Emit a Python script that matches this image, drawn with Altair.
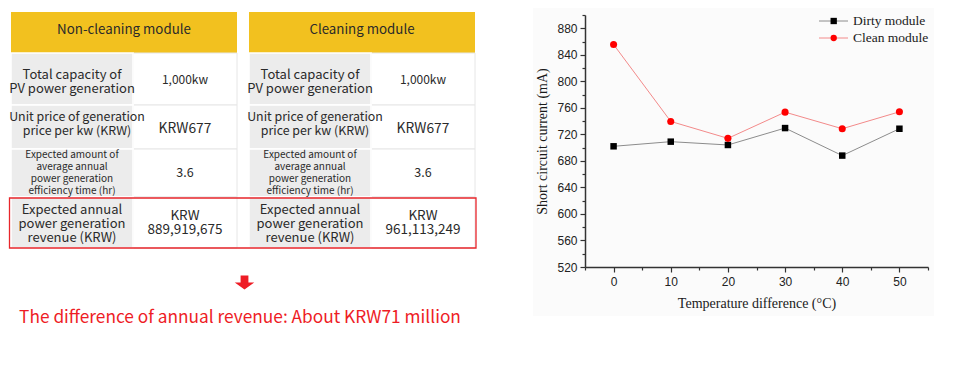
import altair as alt
import pandas as pd

# ---------------- content ----------------
headers = ["Non-cleaning module", "Cleaning module"]
row_labels = [
    "Total capacity of\nPV power generation",
    "Unit price of generation\nprice per kw (KRW)",
    "Expected amount of\naverage annual\npower generation\nefficiency time (hr)",
    "Expected annual\npower generation\nrevenue (KRW)",
]
noncleaning_values = ["1,000kw", "KRW677", "3.6", "KRW\n889,919,675"]
cleaning_values = ["1,000kw", "KRW677", "3.6", "KRW\n961,113,249"]
difference_note = "The difference of annual revenue: About KRW71 million"

temperature_diff = [0, 10, 20, 30, 40, 50]
dirty_module = [702, 709, 704, 729.5, 688, 728.5]
clean_module = [855.5, 739.5, 714, 753.5, 728.5, 754]
series_names = ["Dirty module", "Clean module"]

# ---------------- layout (page pixels) ----------------
PLOT_X, PLOT_Y, PLOT_W, PLOT_H = 585, 15, 343, 252
table_cols = [(11, 133, 237), (249, 371, 475)]
row_edges = [12, 53, 105, 149, 197, 248]
label_font = [13.0, 12.4, 10.0, 13.0]
label_lh = [14, 13.5, 12, 14]
label_y1 = [74.5, 117, 155, 210]        # first text line of each row
label_dx = [0, 5, 0, 0]
value_font = [12, 13.8, 12.5, 13.5]
value_lh = [14, 14, 14, 14.5]
value_y1 = [80, 129, 173, 215.5]
TFONT = "Noto Sans CJK KR"
TCOLOR = "#2a2a2a"

PX = alt.Scale(domain=[0, 957], range=[-PLOT_X, 957 - PLOT_X], nice=False, zero=False)
PY = alt.Scale(domain=[0, 365], range=[-PLOT_Y, 365 - PLOT_Y], nice=False, zero=False)


def px(f):
    return alt.X(f"{f}:Q", scale=PX, axis=None)


def py(f):
    return alt.Y(f"{f}:Q", scale=PY, axis=None)


layers = []

# chart backdrop (faint)
bg = pd.DataFrame([{"x0": 533, "x1": 934, "y0": 8, "y1": 316}])
layers.append(alt.Chart(bg).mark_rect(fill="#fbfbfb").encode(
    x=px("x0"), x2="x1:Q", y=py("y0"), y2="y1:Q"))

# table cells
header_rows, label_rows, value_rows = [], [], []
for t, (c0, c1, c2) in enumerate(table_cols):
    header_rows.append({"x0": c0, "x1": c2, "y0": row_edges[0], "y1": row_edges[1],
                        "xc": (c0 + c2) / 2, "yc": 30, "txt": headers[t]})
    vals = noncleaning_values if t == 0 else cleaning_values
    for r in range(4):
        label_rows.append({"x0": c0, "x1": c1, "y0": row_edges[r + 1], "y1": row_edges[r + 2],
                           "xc": (c0 + c1) / 2 + label_dx[r], "yc": label_y1[r],
                           "txt": row_labels[r], "r": r})
        value_rows.append({"x0": c1, "x1": c2, "y0": row_edges[r + 1], "y1": row_edges[r + 2],
                           "xc": (c1 + c2) / 2, "yc": value_y1[r], "txt": vals[r], "r": r})
hdf = pd.DataFrame(header_rows)
ldf = pd.DataFrame(label_rows)
vdf = pd.DataFrame(value_rows)

layers.append(alt.Chart(hdf).mark_rect(fill="#f2c11f").encode(
    x=px("x0"), x2="x1:Q", y=py("y0"), y2="y1:Q"))
layers.append(alt.Chart(vdf).mark_rect(fill="white", stroke="#e6e6e6", strokeWidth=1).encode(
    x=px("x0"), x2="x1:Q", y=py("y0"), y2="y1:Q"))
layers.append(alt.Chart(ldf).mark_rect(fill="#ececec", stroke="white", strokeWidth=1.5).encode(
    x=px("x0"), x2="x1:Q", y=py("y0"), y2="y1:Q"))
layers.append(alt.Chart(hdf).mark_text(font=TFONT, fontSize=13.3, color="#2a2a2a",
                                       baseline="middle", align="center").encode(
    x=px("xc"), y=py("yc"), text="txt:N"))
for r in range(4):
    layers.append(alt.Chart(ldf[ldf.r == r]).mark_text(
        font=TFONT, fontSize=label_font[r], lineHeight=label_lh[r], lineBreak="\n",
        color=TCOLOR, baseline="middle", align="center").encode(
        x=px("xc"), y=py("yc"), text="txt:N"))
    layers.append(alt.Chart(vdf[vdf.r == r]).mark_text(
        font=TFONT, fontSize=value_font[r], lineHeight=value_lh[r], lineBreak="\n",
        color=TCOLOR, baseline="middle", align="center").encode(
        x=px("xc"), y=py("yc"), text="txt:N"))

# red highlight box
box = pd.DataFrame([{"x0": 9.5, "x1": 476, "y0": 198, "y1": 248}])
layers.append(alt.Chart(box).mark_rect(fill=None, stroke="#e8262b", strokeWidth=1.3).encode(
    x=px("x0"), x2="x1:Q", y=py("y0"), y2="y1:Q"))

# arrow + note
arrow = pd.DataFrame([{"x": 244.5, "y": 282.5}])
layers.append(alt.Chart(arrow).mark_point(
    shape="M-0.4,-0.73H0.4V0H1L0,0.73L-1,0H-0.4Z", size=380, filled=True,
    fill="#ee1c25", stroke=None, opacity=1).encode(x=px("x"), y=py("y")))
note = pd.DataFrame([{"x": 240, "y": 318, "txt": difference_note}])
layers.append(alt.Chart(note).mark_text(font=TFONT, fontSize=17.3, color="#ee1c25",
                                        baseline="middle", align="center").encode(
    x=px("x"), y=py("y"), text="txt:N"))

# legend (drawn)
leg = pd.DataFrame({
    "name": series_names,
    "x0": [819, 819], "x1": [848, 848], "xm": [833.7, 833.7], "xt": [853, 853],
    "y": [21, 38],
    "lc": ["#8c8c8c", "#f38a8a"], "mc": ["#000000", "#ff0000"],
    "sh": ["square", "circle"],
})
layers.append(alt.Chart(leg).mark_rule(strokeWidth=1).encode(
    x=px("x0"), x2="x1:Q", y=py("y"), color=alt.Color("lc:N", scale=None)))
layers.append(alt.Chart(leg).mark_point(filled=True, size=40, opacity=1).encode(
    x=px("xm"), y=py("y"), color=alt.Color("mc:N", scale=None),
    shape=alt.Shape("sh:N", scale=None)))
layers.append(alt.Chart(leg).mark_text(font="Liberation Serif", fontSize=13.5, color="#1a1a1a",
                                       align="left", baseline="middle").encode(
    x=px("xt"), y=py("y"), text="name:N"))

# ---------------- line chart ----------------
cdf = pd.DataFrame({
    "temp": temperature_diff * 2,
    "val": dirty_module + clean_module,
    "series": [series_names[0]] * 6 + [series_names[1]] * 6,
})

axis_common = dict(grid=False, domainColor="#333333", tickColor="#333333", domainWidth=1.5,
                   tickWidth=1.2, tickSize=5, labelFont="Liberation Sans", labelFontSize=12,
                   labelColor="#222222", titleFont="Liberation Serif", titleFontSize=14,
                   titleFontWeight="normal", titleColor="#1a1a1a", labelOverlap=False,
                   labelFlush=False, zindex=1)
XE = alt.X("temp:Q", scale=alt.Scale(domain=[-5, 55], nice=False, zero=False),
           axis=alt.Axis(values=list(range(-5, 60, 5)),
                         labelExpr="datum.value % 10 === 0 ? datum.label : ''",
                         tickDash={"condition": {"test": "datum.value % 10 === 0", "value": [5, 0]},
                                   "value": [3, 20]},
                         title="Temperature difference (°C)", labelPadding=4, titlePadding=9,
                         **axis_common))
YE = alt.Y("val:Q", scale=alt.Scale(domain=[520, 900], nice=False, zero=False),
           axis=alt.Axis(values=list(range(520, 920, 20)),
                         labelExpr="datum.value % 40 === 0 ? datum.label : ''",
                         tickDash={"condition": {"test": "datum.value % 40 === 0", "value": [5, 0]},
                                   "value": [3, 20]},
                         title="Short circuit current (mA)", labelPadding=3, titlePadding=7,
                         **axis_common))

d_dirty = cdf[cdf.series == series_names[0]]
d_clean = cdf[cdf.series == series_names[1]]
plot = alt.layer(
    alt.Chart(d_dirty).mark_line(color="#8c8c8c", strokeWidth=1).encode(x=XE, y=YE),
    alt.Chart(d_clean).mark_line(color="#f38a8a", strokeWidth=1).encode(x=XE, y=YE),
    alt.Chart(d_dirty).mark_point(shape="square", filled=True, size=42, color="#000000",
                                  opacity=1).encode(x=XE, y=YE),
    alt.Chart(d_clean).mark_point(shape="circle", filled=True, size=50, color="#ff0000",
                                  opacity=1).encode(x=XE, y=YE),
)
layers.append(plot)

chart = alt.layer(*layers).resolve_scale(x="independent", y="independent").properties(
    width=PLOT_W, height=PLOT_H,
    padding={"left": PLOT_X - 8, "top": PLOT_Y - 8, "right": 20, "bottom": 90},
    autosize=alt.AutoSizeParams(type="none"),
).configure_view(stroke=None)

chart.save("out.html", embed_options={"renderer": "svg", "actions": False})
